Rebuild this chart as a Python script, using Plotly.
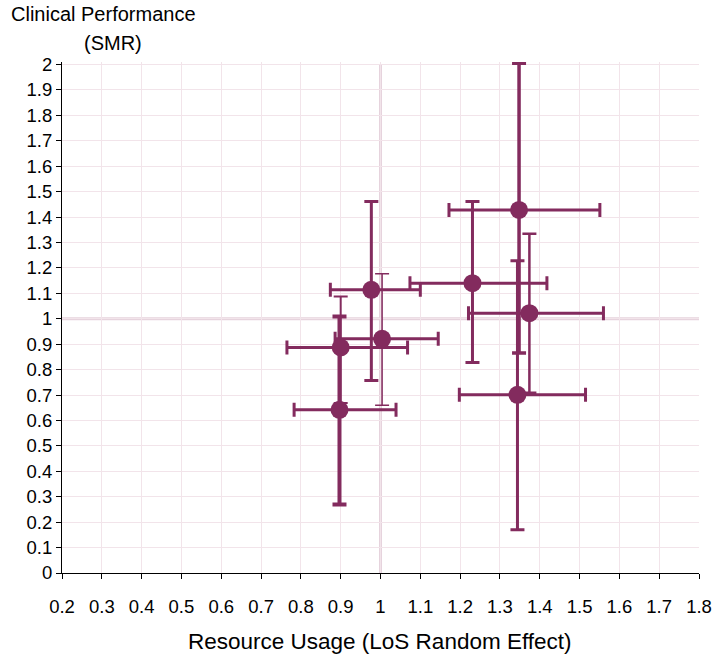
import plotly.graph_objects as go

# Resource usage (LoS random effect) vs clinical performance (SMR), with 95% intervals
los_effect = [1.348, 1.231, 0.977, 0.900, 0.897, 1.344, 1.374, 1.004]
smr = [1.428, 1.140, 1.114, 0.887, 0.642, 0.701, 1.022, 0.921]
los_low = [1.172, 1.074, 0.874, 0.765, 0.783, 1.198, 1.221, 0.886]
los_high = [1.551, 1.418, 1.100, 1.068, 1.039, 1.515, 1.560, 1.145]
smr_low = [0.865, 0.828, 0.757, 0.669, 0.269, 0.170, 0.709, 0.660]
smr_high = [2.005, 1.461, 1.461, 1.088, 1.009, 1.228, 1.334, 1.177]

x_ticks = [round(0.2 + 0.1 * i, 1) for i in range(17)]
y_ticks = [round(0.1 * i, 1) for i in range(21)]

PLUM = "#832B5E"
GRID = "#F2E4EA"
REF = "#E6D3DD"
FONT = "Liberation Sans, Arial, sans-serif"

# thickness of each hospital's vertical interval
v_width = [3.5, 3, 3, 2, 4, 3, 2.5, 1.5]

fig = go.Figure()

for i in range(len(los_effect)):
    fig.add_trace(go.Scatter(
        x=[los_effect[i]], y=[smr[i]], mode="markers",
        marker=dict(size=1, color="rgba(0,0,0,0)"),
        error_x=dict(type="data", symmetric=False,
                     array=[los_high[i] - los_effect[i]],
                     arrayminus=[los_effect[i] - los_low[i]],
                     color=PLUM, thickness=3, width=7),
        error_y=dict(type="data", symmetric=False,
                     array=[smr_high[i] - smr[i]],
                     arrayminus=[smr[i] - smr_low[i]],
                     color=PLUM, thickness=v_width[i], width=7),
        cliponaxis=False, showlegend=False, hoverinfo="skip",
    ))

fig.add_trace(go.Scatter(
    x=los_effect, y=smr, mode="markers",
    marker=dict(size=18, color=PLUM, line=dict(width=0)),
    cliponaxis=False, showlegend=False,
))

# reference lines at 1.0 on both axes
fig.add_shape(type="line", x0=1, x1=1, y0=0, y1=2, xref="x", yref="y",
              line=dict(color=REF, width=3), layer="below")
fig.add_shape(type="line", x0=0.2, x1=1.8, y0=1, y1=1, xref="x", yref="y",
              line=dict(color=REF, width=3), layer="below")

fig.update_layout(
    width=717, height=655,
    margin=dict(l=62, r=18, t=62.2, b=81.7, autoexpand=False),
    paper_bgcolor="white", plot_bgcolor="white",
    font=dict(family=FONT, size=18.5, color="black"),
    xaxis=dict(range=[0.2, 1.8], tickvals=x_ticks,
               ticktext=[f"{v:g}" for v in x_ticks], automargin=False,
               showgrid=True, gridcolor=GRID, gridwidth=1.3,
               zeroline=False, showline=True, linecolor="black", linewidth=1,
               ticks="outside", ticklen=5, tickcolor="black",
               ticklabelstandoff=12, tickfont=dict(size=18.5)),
    yaxis=dict(range=[0, 2.01], tickvals=y_ticks,
               ticktext=[f"{v:g}" for v in y_ticks], automargin=False,
               showgrid=True, gridcolor=GRID, gridwidth=1.3,
               zeroline=False, showline=True, linecolor="black", linewidth=1,
               ticks="outside", ticklen=5, tickcolor="black",
               tickfont=dict(size=18.5)),
    annotations=[
        dict(text="Clinical Performance", xref="paper", yref="paper",
             x=0.0648, y=1.093, xanchor="center", yanchor="middle",
             showarrow=False, font=dict(size=20)),
        dict(text="(SMR)", xref="paper", yref="paper",
             x=0.0797, y=1.038, xanchor="center", yanchor="middle",
             showarrow=False, font=dict(size=20)),
        dict(text="Resource Usage (LoS Random Effect)", xref="paper", yref="paper",
             x=0.499, y=-0.135, xanchor="center", yanchor="middle",
             showarrow=False, font=dict(size=22.5)),
    ],
)

fig.write_html("out.html")
